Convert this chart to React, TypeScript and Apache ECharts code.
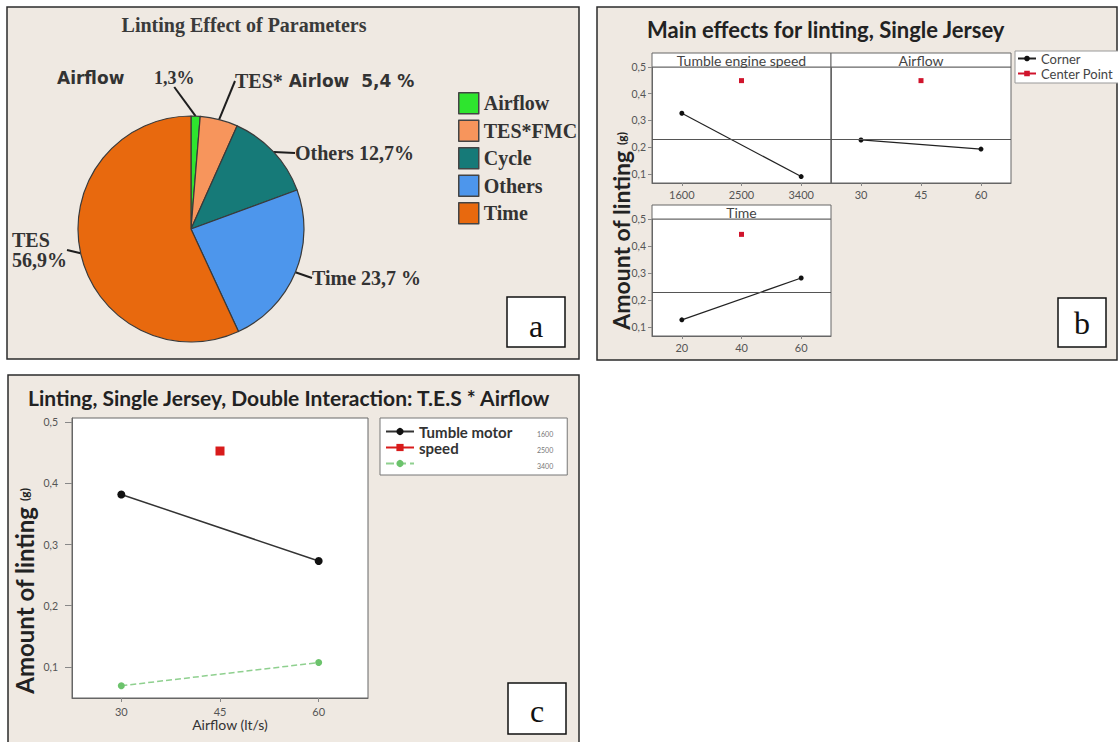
import React, { useEffect, useRef } from 'react';
import * as echarts from 'echarts';

// ---------- Panel a: pie ----------
const pieNames = ['Airflow', 'TES*FMC', 'Cycle', 'Others', 'Time'];
const pieValues = [1.3, 5.4, 12.7, 23.7, 56.9];
const pieLabelTexts = [
  '{p|1,3%}',
  '{s|TES*}{l| Airlow  5,4 %}',
  '{s|Others 12,7%}',
  '{s|Time 23,7 %}',
  '{s|TES}\n{s|56,9%}',
];
const pieColors = ['#2ee52e', '#f7955c', '#167a78', '#4d96ec', '#e8690e'];
const pieLabelAnchors = [[154, 69], [235, 71], [295, 143], [312, 268], [12, 230]];

// ---------- Panel b: main effects ----------
const tesLevels = ['1600', '2500', '3400'];
const tesCorner = [0.327, null, 0.09];
const tesCenter = [null, 0.449, null];
const airLevels = ['30', '45', '60'];
const airCorner = [0.227, null, 0.193];
const airCenter = [null, 0.449, null];
const timeLevels = ['20', '40', '60'];
const timeCorner = [0.126, null, 0.281];
const timeCenter = [null, 0.443, null];
const meanLinting = 0.235;
const lintTicks = [0.1, 0.2, 0.3, 0.4, 0.5];

// ---------- Panel c: interaction ----------
const airflowLevels = ['30', '45', '60'];
const speedNames = ['1600', '2500', '3400'];
const speedLegendText = ['Tumble motor', 'speed', ' '];
const speed1600 = [0.382, null, 0.273];
const speed2500 = [null, 0.453, null];
const speed3400 = [0.069, null, 0.107];

const SERIF = '"Liberation Serif", "Times New Roman", serif';
const SANS = 'Lato, "Noto Sans", sans-serif';
const WIDE = '"DejaVu Sans", Verdana, sans-serif';
const BG = '#efe9e2';

const fmt = (v: number) => v.toFixed(1).replace('.', ',');

const bX = (gi: number, data: string[]) => ({
  type: 'category', gridIndex: gi, data, boundaryGap: true,
  axisLine: { lineStyle: { color: '#666' } },
  axisTick: { show: true, alignWithLabel: true, length: 3, lineStyle: { color: '#888' } },
  axisLabel: { fontSize: 11, color: '#555', margin: 6, fontFamily: SANS },
  splitLine: { show: false },
});
const bY = (gi: number, showLabels: boolean) => ({
  type: 'value', gridIndex: gi, min: 0.066, max: 0.5,
  axisLine: { show: true, lineStyle: { color: '#666' } },
  axisTick: { show: showLabels, length: 4, customValues: lintTicks, lineStyle: { color: '#888' } },
  axisLabel: { show: showLabels, customValues: lintTicks, formatter: fmt, fontSize: 10.5, color: '#555', margin: 6, fontFamily: SANS },
  splitLine: { show: false },
});
const bSeries = (gi: number, corner: (number | null)[], center: (number | null)[]) => [
  {
    name: 'Corner', type: 'line', xAxisIndex: gi, yAxisIndex: gi, data: corner, connectNulls: true,
    symbol: 'circle', symbolSize: 5, itemStyle: { color: '#111' }, lineStyle: { color: '#222', width: 1.2 },
    emphasis: { disabled: true },
    markLine: {
      silent: true, symbol: 'none', label: { show: false },
      lineStyle: { color: '#555', width: 1, type: 'solid' },
      data: [{ yAxis: meanLinting }],
    },
  },
  {
    name: 'Center Point', type: 'line', xAxisIndex: gi, yAxisIndex: gi, data: center,
    symbol: 'rect', symbolSize: 5, itemStyle: { color: '#d0142c' }, lineStyle: { color: '#d0142c', width: 1.2 },
    emphasis: { disabled: true },
  },
];

const rect = (x: number, y: number, w: number, h: number, fill: string, stroke: string, lw: number, z: number) => ({
  type: 'rect', z, silent: true, shape: { x, y, width: w, height: h }, style: { fill, stroke, lineWidth: lw },
});
const text = (x: number, y: number, t: string, size: number, family: string, weight: string, color: string, align: string, z = 10) => ({
  type: 'text', x, y, z, silent: true,
  style: { text: t, fontSize: size, fontFamily: family, fontWeight: weight, fill: color, textAlign: align, verticalAlign: 'middle' },
});

export default function App() {
  const ref = useRef<HTMLDivElement>(null);
  useEffect(() => {
    if (!ref.current) return;
    const chart = echarts.init(ref.current, undefined, { renderer: 'svg' });
    const gridBase = { show: true, backgroundColor: '#fff', borderColor: '#666', borderWidth: 1, outerBoundsMode: 'none', containLabel: false };
    const option: any = {
      animation: false,
      backgroundColor: '#fff',
      grid: [
        { ...gridBase, left: 652, top: 67, width: 179, height: 116 },
        { ...gridBase, left: 831, top: 67, width: 180, height: 116 },
        { ...gridBase, left: 652, top: 219, width: 179, height: 117 },
        { ...gridBase, left: 72, top: 418, width: 296, height: 280 },
      ],
      xAxis: [
        bX(0, tesLevels),
        bX(1, airLevels),
        bX(2, timeLevels),
        {
          type: 'category', gridIndex: 3, data: airflowLevels, boundaryGap: true,
          axisLine: { lineStyle: { color: '#666' } },
          axisTick: { show: true, alignWithLabel: true, length: 4, lineStyle: { color: '#888' } },
          axisLabel: { fontSize: 11, color: '#555', margin: 8, fontFamily: SANS },
          name: 'Airflow (lt/s)', nameLocation: 'middle', nameGap: 19,
          nameTextStyle: { fontSize: 14, color: '#333', fontFamily: SANS, padding: [0, 0, 0, 20] },
          splitLine: { show: false },
        },
      ],
      yAxis: [
        bY(0, true),
        bY(1, false),
        bY(2, true),
        {
          type: 'value', gridIndex: 3, min: 0.049, max: 0.507,
          axisLine: { show: true, lineStyle: { color: '#666' } },
          axisTick: { show: true, length: 7, customValues: lintTicks, lineStyle: { color: '#888' } },
          axisLabel: { customValues: lintTicks, formatter: fmt, fontSize: 10.5, color: '#555', margin: 14, fontFamily: SANS },
          splitLine: { show: false },
          name: '{a|Amount of linting }{b|(g)}', nameLocation: 'middle', nameRotate: 90, nameGap: 36,
          nameTextStyle: {
            padding: [0, 66, 0, 0],
            rich: {
              a: { fontSize: 24, fontWeight: 'bold', fontFamily: SANS, color: '#222' },
              b: { fontSize: 12, fontWeight: 'bold', fontFamily: SANS, color: '#222' },
            },
          },
        },
      ],
      legend: [
        {
          data: pieNames, left: 453, top: 87, orient: 'vertical', icon: 'rect',
          itemWidth: 20, itemHeight: 21, itemGap: 5, selectedMode: false,
          itemStyle: { borderColor: '#444', borderWidth: 1.5 },
          textStyle: { fontFamily: SERIF, fontWeight: 'bold', fontSize: 20, color: '#333' },
        },
        {
          data: ['Corner', 'Center Point'], left: 1015, top: 51, orient: 'vertical',
          itemWidth: 18, itemHeight: 7, itemGap: 2, padding: [1, 10, 3, 2], selectedMode: false,
          backgroundColor: '#fff', borderColor: '#999', borderWidth: 1,
          textStyle: { fontSize: 13, fontFamily: SANS, color: '#444' },
        },
        {
          data: speedNames, left: 380, top: 418, orient: 'vertical',
          itemWidth: 28, itemHeight: 9, itemGap: 1, padding: [6, 14, 4, 5], selectedMode: false,
          backgroundColor: '#fff', borderColor: '#777', borderWidth: 1,
          formatter: (name: string) => `{a|${speedLegendText[speedNames.indexOf(name)]}}{b|${name}}`,
          textStyle: {
            rich: {
              a: { fontSize: 15, fontWeight: 'bold', fontFamily: SANS, color: '#333', width: 118 },
              b: { fontSize: 7, fontFamily: SANS, color: '#777', padding: [5, 0, 0, 0] },
            },
          },
        },
      ],
      series: [
        {
          type: 'pie', center: [191, 229], radius: 113, startAngle: 90, clockwise: true,
          avoidLabelOverlap: false,
          itemStyle: { borderColor: '#3a3a3a', borderWidth: 1.2 },
          emphasis: { disabled: true },
          data: pieNames.map((n, i) => ({
            name: n, value: pieValues[i], itemStyle: { color: pieColors[i] },
            label: { formatter: pieLabelTexts[i] },
          })),
          label: {
            show: true, position: 'outside', color: '#333',
            rich: {
              s: { fontFamily: SERIF, fontWeight: 'bold', fontSize: 20, color: '#333', lineHeight: 20 },
              p: { fontFamily: SERIF, fontWeight: 'bold', fontSize: 18, color: '#333' },
              l: { fontFamily: WIDE, fontWeight: 'bold', fontSize: 17, color: '#333' },
            },
          },
          labelLine: { show: true, length: 6, length2: 0, smooth: false, lineStyle: { color: '#1e1e1e', width: 2 } },
          labelLayout: (p: any) => {
            const a = pieLabelAnchors[p.dataIndex];
            return { x: a[0], y: a[1], align: 'left', verticalAlign: 'top' };
          },
        },
        ...bSeries(0, tesCorner, tesCenter),
        ...bSeries(1, airCorner, airCenter),
        ...bSeries(2, timeCorner, timeCenter),
        {
          name: '1600', type: 'line', xAxisIndex: 3, yAxisIndex: 3, data: speed1600, connectNulls: true,
          symbol: 'circle', symbolSize: 8, itemStyle: { color: '#111' }, lineStyle: { color: '#333', width: 1.5 },
          emphasis: { disabled: true },
        },
        {
          name: '2500', type: 'line', xAxisIndex: 3, yAxisIndex: 3, data: speed2500,
          symbol: 'rect', symbolSize: 9, itemStyle: { color: '#d81b1b' }, lineStyle: { color: '#d81b1b', width: 1.5 },
          emphasis: { disabled: true },
        },
        {
          name: '3400', type: 'line', xAxisIndex: 3, yAxisIndex: 3, data: speed3400, connectNulls: true,
          symbol: 'circle', symbolSize: 7, itemStyle: { color: '#6cc36c' }, lineStyle: { color: '#8fd08f', width: 1.5, type: 'dashed' },
          emphasis: { disabled: true },
        },
      ],
      graphic: {
        elements: [
          rect(7, 7, 572, 352, BG, '#2b2b2b', 1.5, -10),
          rect(597, 7, 520, 353, BG, '#2b2b2b', 1.5, -10),
          rect(8, 375, 571, 380, BG, '#2b2b2b', 1.5, -10),
          // panel a
          text(244, 25, 'Linting Effect of Parameters', 20, SERIF, 'bold', '#3a3a3a', 'center'),
          text(57, 78, 'Airflow', 17, WIDE, 'bold', '#333', 'left'),
          rect(507, 297, 58, 50, '#fff', '#111', 1.5, 10),
          text(536, 326, 'a', 32, SERIF, 'normal', '#111', 'center', 11),
          // panel b
          text(647, 29, 'Main effects for linting, Single Jersey', 22, SANS, 'bold', '#222', 'left'),
          rect(652, 53, 179, 14, '#fff', '#666', 1, 5),
          rect(831, 53, 180, 14, '#fff', '#666', 1, 5),
          rect(652, 205, 179, 14, '#fff', '#666', 1, 5),
          text(741.5, 60, 'Tumble engine speed', 14, SANS, 'normal', '#444', 'center'),
          text(921, 60, 'Airflow', 14, SANS, 'normal', '#444', 'center'),
          text(741.5, 212, 'Time', 14, SANS, 'normal', '#444', 'center'),
          {
            type: 'text', x: 621, y: 231, rotation: Math.PI / 2, z: 10, silent: true,
            style: {
              text: '{a|Amount of linting }{b|(g)}', textAlign: 'center', verticalAlign: 'middle',
              rich: {
                a: { fontSize: 23, fontWeight: 'bold', fontFamily: SANS, fill: '#222', color: '#222' },
                b: { fontSize: 12, fontWeight: 'bold', fontFamily: SANS, fill: '#222', color: '#222' },
              },
            },
          },
          rect(1058, 298, 48, 49, '#fff', '#111', 1.5, 10),
          text(1082, 323, 'b', 32, SERIF, 'normal', '#111', 'center', 11),
          // panel c
          text(28, 397, 'Linting, Single Jersey, Double Interaction: T.E.S * Airflow', 21, SANS, 'bold', '#222', 'left'),
          rect(508, 683, 58, 51, '#fff', '#111', 1.5, 10),
          text(537, 711, 'c', 32, SERIF, 'normal', '#111', 'center', 11),
        ],
      },
    };
    chart.setOption(option);
    return () => chart.dispose();
  }, []);
  return <div ref={ref} style={{ position: 'fixed', left: 0, top: 0, width: 1118, height: 742, background: '#fff' }} />;
}
